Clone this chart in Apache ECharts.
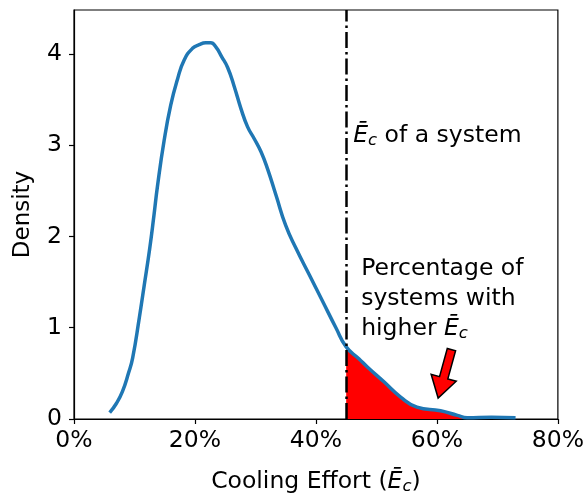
<!DOCTYPE html>
<html>
<head>
<meta charset="utf-8">
<script src="https://cdn.jsdelivr.net/npm/echarts@6/dist/echarts.min.js"></script>
<style>
  html, body { margin: 0; padding: 0; background: #fff; }
  #chart { width: 587px; height: 500px; }
</style>
</head>
<body>
<div id="chart"></div>
<script>
// Kernel density estimate of cooling effort (percent) across systems
const effortPct = [5.9, 7.0, 8.0, 9.0, 9.7, 10.8, 11.6, 12.5, 13.2, 13.8, 14.9, 16.0, 17.1, 18.2, 19.6, 20.7, 21.8, 22.6, 23.5, 24.4, 25.4, 26.5, 27.6, 28.7, 29.8, 30.9, 32.0, 33.4, 35.0, 36.7, 38.9, 41.1, 43.3, 45.0, 47.1, 48.5, 51.2, 54.0, 56.7, 60.6, 63.4, 65.0, 69.0, 73.0];
const density = [0.07, 0.17, 0.30, 0.50, 0.67, 1.11, 1.46, 1.86, 2.22, 2.55, 3.05, 3.44, 3.72, 3.93, 4.06, 4.10, 4.12, 4.12, 4.07, 3.97, 3.85, 3.64, 3.40, 3.20, 3.07, 2.93, 2.74, 2.45, 2.12, 1.87, 1.58, 1.29, 1.00, 0.79, 0.66, 0.57, 0.41, 0.24, 0.13, 0.09, 0.04, 0.015, 0.02, 0.015];

// Cooling effort of the system being compared
const systemEffort = 45;

// Axis ticks
const xTicks = [0, 20, 40, 60, 80];
const yTicks = [0, 1, 2, 3, 4];

// Arrow pointing at the shaded tail: [tail, tip] in data units
const arrowTail = [62.4, 0.76];
const arrowTip = [60.2, 0.23];

const kdePoints = effortPct.map((x, i) => [x, density[i]]);
const tailPoints = kdePoints.filter(p => p[0] >= systemEffort);

const FONT = 'DejaVu Sans';
const FS = 23.5;

const chart = echarts.init(document.getElementById('chart'), null, { renderer: 'canvas' });

const ecRich = {
  e: { fontFamily: FONT, fontSize: FS, fontStyle: 'italic', color: '#000' },
  c: { fontFamily: FONT, fontSize: 16.5, fontStyle: 'italic', color: '#000', padding: [10, 0, 0, 0] },
  t: { fontFamily: FONT, fontSize: FS, color: '#000' }
};

chart.setOption({
  animation: false,
  grid: {
    left: 74, right: 28, top: 10, bottom: 78,
    show: true, borderColor: '#000', borderWidth: 1.2, backgroundColor: 'transparent'
  },
  xAxis: {
    type: 'value',
    min: xTicks[0], max: xTicks[xTicks.length - 1], interval: 20,
    name: '{t|Cooling Effort (}{e|Ē}{c|c}{t|)}',
    nameLocation: 'middle', nameGap: 49,
    nameTextStyle: { rich: ecRich },
    axisLine: { show: true, onZero: false, lineStyle: { color: '#000', width: 1.2 } },
    axisTick: { show: true, inside: false, length: 5, lineStyle: { color: '#000', width: 1.2 } },
    axisLabel: { formatter: '{value}%', fontFamily: FONT, fontSize: FS, color: '#000', margin: 10 },
    splitLine: { show: false }
  },
  yAxis: {
    type: 'value',
    min: 0, max: 4.48, interval: 1,
    name: 'Density',
    nameLocation: 'middle', nameGap: 39,
    nameTextStyle: { fontFamily: FONT, fontSize: 23, color: '#000' },
    axisLine: { show: true, onZero: false, lineStyle: { color: '#000', width: 1.2 } },
    axisTick: { show: true, inside: false, length: 5, lineStyle: { color: '#000', width: 1.2 } },
    axisLabel: {
      fontFamily: FONT, fontSize: FS, color: '#000', margin: 12,
      showMaxLabel: false,
      formatter: v => (yTicks.indexOf(v) >= 0 ? String(v) : '')
    },
    splitLine: { show: false }
  },
  series: [
    {
      name: 'higher',
      type: 'line',
      data: tailPoints,
      smooth: 0.5,
      symbol: 'none',
      lineStyle: { width: 0 },
      areaStyle: { color: '#ff0000', opacity: 1 },
      z: 1
    },
    {
      name: 'kde',
      type: 'line',
      data: kdePoints,
      smooth: 0.5,
      symbol: 'none',
      lineStyle: { color: '#1f77b4', width: 3.5, cap: 'butt' },
      z: 3,
      markLine: {
        silent: true,
        symbol: 'none',
        label: { show: false },
        lineStyle: { color: '#000', width: 2.5, type: [16, 4, 2.5, 4] },
        data: [{ xAxis: systemEffort }]
      }
    }
  ]
});

// Annotations placed from data coordinates
function px(pt) { return chart.convertToPixel({ gridIndex: 0 }, pt); }

const sysLabel = px([systemEffort, 3.1]);
const pctLabel = px([systemEffort, 1.8]);

// Block arrow polygon
const a0 = px(arrowTail), a1 = px(arrowTip);
const dx = a1[0] - a0[0], dy = a1[1] - a0[1];
const len = Math.sqrt(dx * dx + dy * dy);
const ux = dx / len, uy = dy / len, nx = -uy, ny = ux;
const headLen = 21, shaftW = 4.3, headW = 13;
const bx = a1[0] - ux * headLen, by = a1[1] - uy * headLen;
const arrowPts = [
  [a0[0] + nx * shaftW, a0[1] + ny * shaftW],
  [bx + nx * shaftW, by + ny * shaftW],
  [bx + nx * headW, by + ny * headW],
  [a1[0], a1[1]],
  [bx - nx * headW, by - ny * headW],
  [bx - nx * shaftW, by - ny * shaftW],
  [a0[0] - nx * shaftW, a0[1] - ny * shaftW]
];

const lh = 30;
chart.setOption({
  graphic: [
    {
      type: 'text',
      x: sysLabel[0] + 7, y: sysLabel[1],
      style: {
        text: '{e|Ē}{c|c}{t| of a system}',
        rich: ecRich,
        verticalAlign: 'middle'
      },
      z: 10
    },
    {
      type: 'text',
      x: pctLabel[0] + 15, y: pctLabel[1] - 1,
      style: {
        text: '{t|Percentage of}\n{t|systems with}\n{t|higher }{e|Ē}{c|c}',
        rich: {
          e: Object.assign({}, ecRich.e, { lineHeight: lh }),
          c: Object.assign({}, ecRich.c, { lineHeight: lh }),
          t: Object.assign({}, ecRich.t, { lineHeight: lh })
        },
        verticalAlign: 'top'
      },
      z: 10
    },
    {
      type: 'polygon',
      shape: { points: arrowPts },
      style: { fill: '#ff0000', stroke: '#000', lineWidth: 1.5, lineJoin: 'miter' },
      z: 10
    }
  ]
});
</script>
</body>
</html>
